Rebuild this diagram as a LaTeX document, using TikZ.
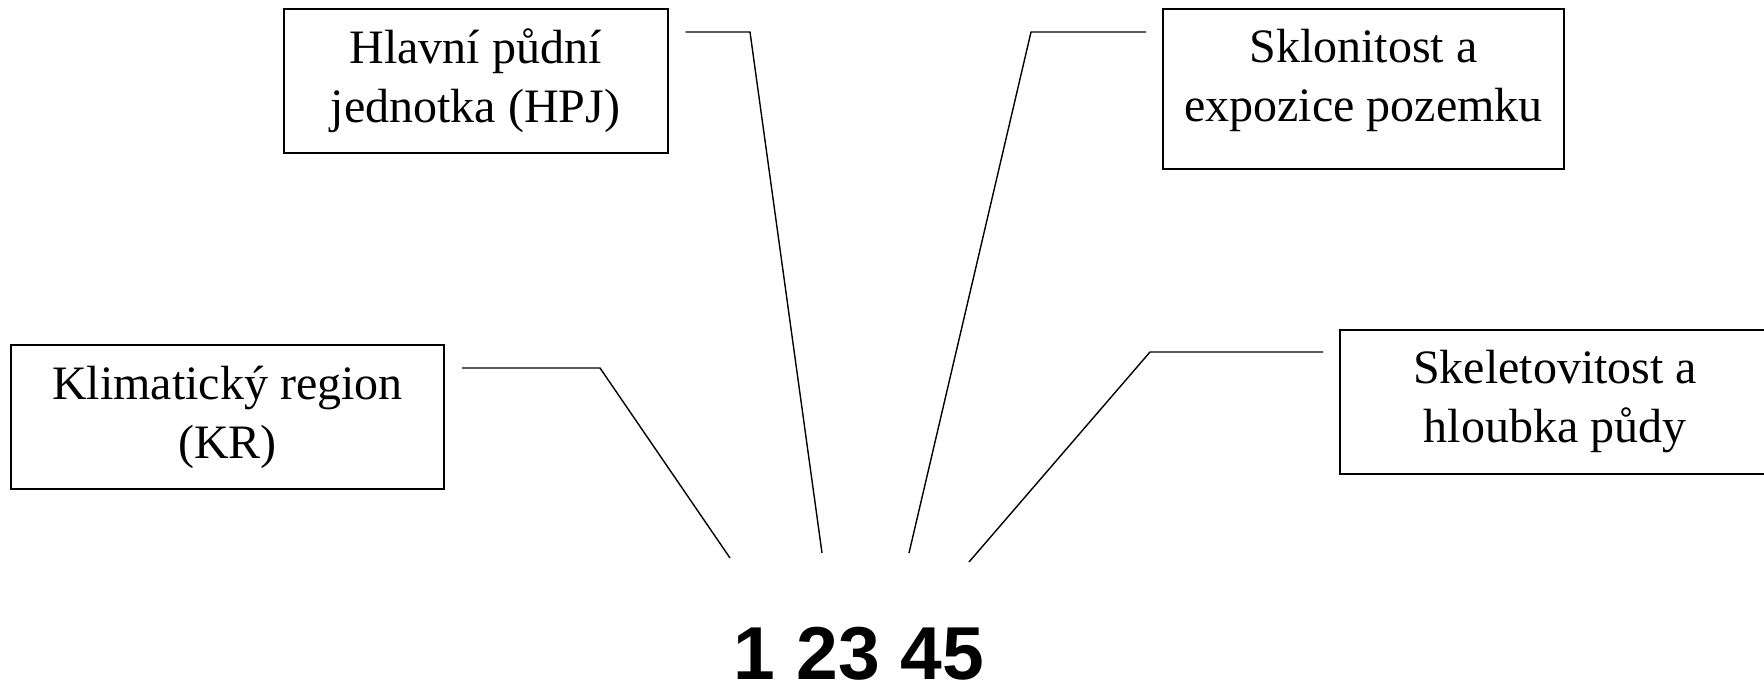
\documentclass[tikz,border=0pt]{standalone}
\usepackage{fontspec}
\setmainfont{Liberation Serif}
\newfontfamily\numfont{Liberation Sans}
\begin{document}
\begin{tikzpicture}[x=0.5pt,y=-0.5pt,
	box/.style={draw,line width=1pt,minimum height=72pt,align=center,inner sep=0pt,font=\fontsize{24}{29.5}\selectfont},
	conn/.style={line width=0.7pt}]
		
		\useasboundingbox (0,0) rectangle (1764,688);
		\node[box,minimum width=216.5pt] (kr) at (227.5,417) {Klimatický region\\(KR)};
		\node[box,minimum width=192pt] (hpj) at (475.5,81) {Hlavní půdní\\jednotka (HPJ)};
		\node[box,minimum width=200.5pt,minimum height=80pt] (skl) at (1363.5,89) {};
		\node[box,draw=none] (skl-t) at ([yshift=4.5pt]skl.center) {Sklonitost a\\expozice pozemku};
		\node[box,minimum width=215pt] (ske) at (1555,402) {Skeletovitost a\\hloubka půdy};
		\node[anchor=base,inner sep=0pt,text depth=0pt,font=\numfont\bfseries\fontsize{37.5}{37.5}\selectfont] (kod) at (859,679) {1 23 45};
		
		\coordinate (kr-s) at ([xshift=8.5pt,yshift=-12pt]kr.north east);
		\coordinate (kr-k) at (600,0 |- kr-s);
		\coordinate (kr-e) at (730,558);
		\draw[conn] (kr-s) -- (kr-k) -- (kr-e);
		\coordinate (hpj-s) at ([xshift=8.5pt,yshift=-12pt]hpj.north east);
		\coordinate (hpj-k) at (750,0 |- hpj-s);
		\coordinate (hpj-e) at (822,553);
		\draw[conn] (hpj-s) -- (hpj-k) -- (hpj-e);
		\coordinate (skl-s) at ([xshift=-8pt,yshift=-12pt]skl.north west);
		\coordinate (skl-k) at (1031,0 |- skl-s);
		\coordinate (skl-e) at (909,553);
		\draw[conn] (skl-s) -- (skl-k) -- (skl-e);
		\coordinate (ske-s) at ([xshift=-8pt,yshift=-11.5pt]ske.north west);
		\coordinate (ske-k) at (1150,0 |- ske-s);
		\coordinate (ske-e) at (969,562);
		\draw[conn] (ske-s) -- (ske-k) -- (ske-e);
		
	\end{tikzpicture}
\end{document}
